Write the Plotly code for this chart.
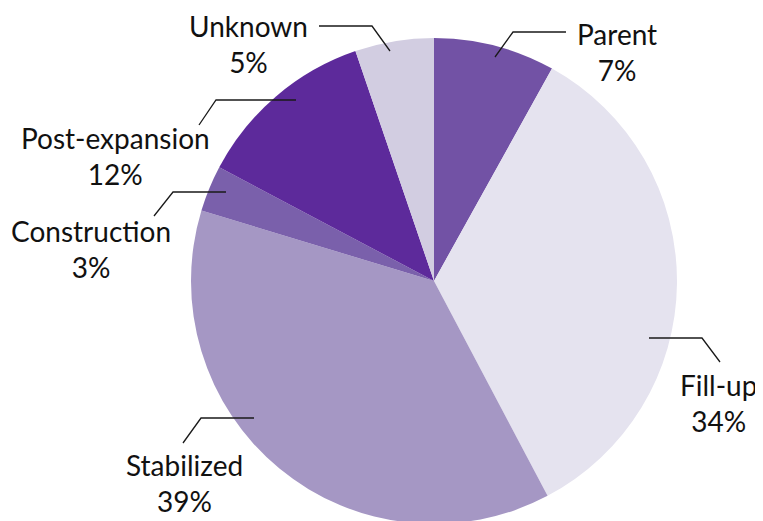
import plotly.graph_objects as go

# Data (clockwise from 12 o'clock)
categories = ["Parent", "Fill-up", "Stabilized", "Construction", "Post-expansion", "Unknown"]
shares = [8.07, 34.19, 37.42, 3.07, 12.01, 5.24]        # slice sizes
pct_labels = ["7%", "34%", "39%", "3%", "12%", "5%"]     # printed labels
colors = ["#7252a5", "#e5e3ef", "#a597c4", "#7a60ab", "#5d2a9b", "#d2cde1"]

W, H = 763, 521
OFF = 8  # page body margin: figure origin sits 8px right/down in the window

# label layout (window pixel positions): text centre, leader polyline
label_pos = {
    "Parent": (617, 52),
    "Fill-up": (718, 403),
    "Stabilized": (184, 483),
    "Construction": (91, 249),
    "Post-expansion": (115, 156),
    "Unknown": (248, 44),
}
leaders = {
    "Parent": [(495, 57), (513, 32), (566, 32)],
    "Fill-up": [(649, 338), (702, 338), (720, 362)],
    "Stabilized": [(254, 418), (201, 418), (183, 443)],
    "Construction": [(226, 192), (173, 192), (154, 216)],
    "Post-expansion": [(296, 100), (216, 100), (199, 125)],
    "Unknown": [(390, 51), (372, 26), (319, 26)],
}


def px(x, y):
    return (x - OFF) / W, 1 - (y - OFF) / H


fig = go.Figure()
cx, cy, r = 434 - OFF, 281 - OFF, 243
fig.add_trace(go.Pie(
    labels=categories,
    values=shares,
    sort=False,
    direction="clockwise",
    rotation=0,
    textinfo="none",
    hoverinfo="label+percent",
    marker=dict(colors=colors, line=dict(width=0)),
    domain=dict(x=[(cx - r) / W, (cx + r) / W],
                y=[max(0.0, (H - cy - r) / H), min(1.0, (H - cy + r) / H)]),
    showlegend=False,
))

shapes = []
for name in categories:
    pts = leaders[name]
    path = ""
    for i, (x, y) in enumerate(pts):
        X, Y = px(x, y)
        path += ("M" if i == 0 else "L") + f" {X:.5f} {Y:.5f} "
    shapes.append(dict(type="path", path=path, xref="paper", yref="paper",
                       line=dict(color="#1a1a1a", width=1.3)))

annotations = []
for name, pct in zip(categories, pct_labels):
    x, y = label_pos[name]
    X, Y = px(x, y)
    annotations.append(dict(
        x=X, y=Y, xref="paper", yref="paper", xanchor="center", yanchor="middle",
        text=f"{name}<br>{pct}", showarrow=False, align="center",
        font=dict(family="Lato", size=28, color="#111111"),
    ))

fig.update_layout(
    width=W, height=H,
    margin=dict(l=0, r=0, t=0, b=0),
    paper_bgcolor="white", plot_bgcolor="white",
    shapes=shapes, annotations=annotations,
)

fig.write_html("out.html")
